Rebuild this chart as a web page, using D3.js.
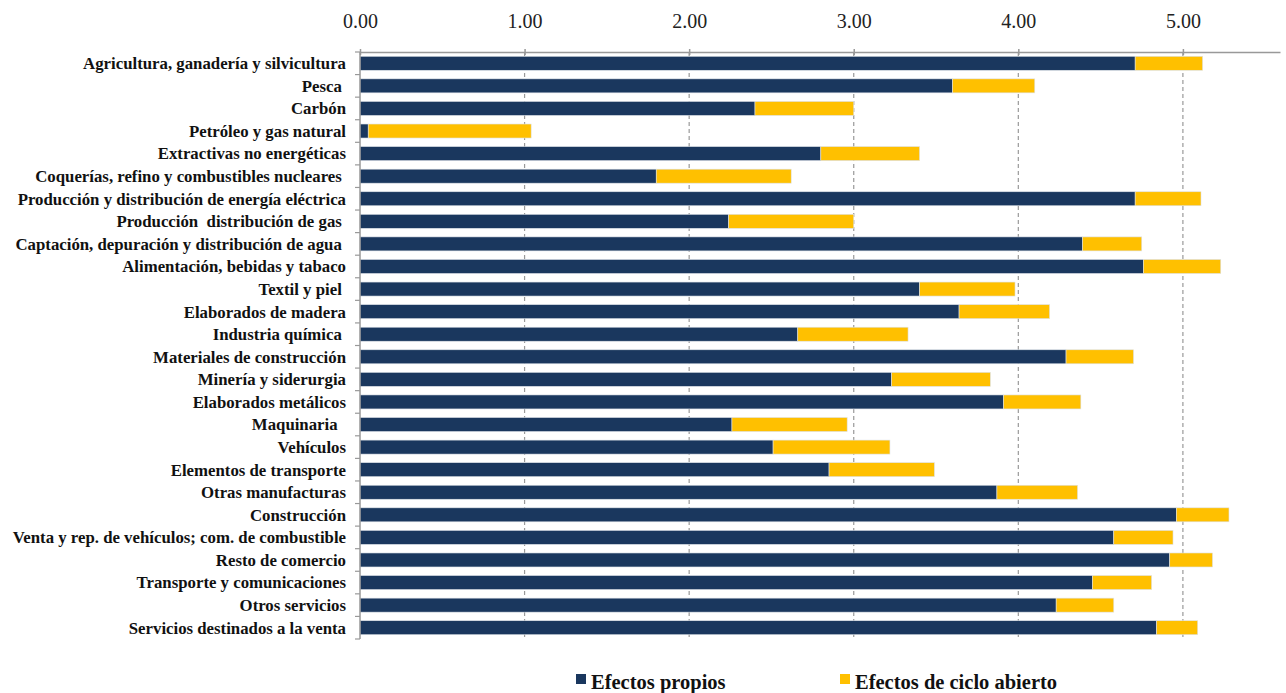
<!DOCTYPE html>
<html>
<head>
<meta charset="utf-8">
<script src="https://cdn.jsdelivr.net/npm/d3@7"></script>
<style>
  body { margin: 0; background: #fff; }
  svg { display: block; font-family: "Liberation Serif", "Times New Roman", serif; }
</style>
</head>
<body>
<svg id="chart"></svg>
<script>
// Sector names, top to bottom
const sectors = [
  "Agricultura, ganadería y silvicultura",
  "Pesca ",
  "Carbón",
  "Petróleo y gas natural",
  "Extractivas no energéticas",
  "Coquerías, refino y combustibles nucleares ",
  "Producción y distribución de energía eléctrica",
  "Producción  distribución de gas ",
  "Captación, depuración y distribución de agua ",
  "Alimentación, bebidas y tabaco",
  "Textil y piel ",
  "Elaborados de madera",
  "Industria química ",
  "Materiales de construcción",
  "Minería y siderurgia",
  "Elaborados metálicos",
  "Maquinaria  ",
  "Vehículos",
  "Elementos de transporte",
  "Otras manufacturas",
  "Construcción",
  "Venta y rep. de vehículos; com. de combustible",
  "Resto de comercio",
  "Transporte y comunicaciones",
  "Otros servicios",
  "Servicios destinados a la venta"
];

// Efectos propios
const propios = [4.71, 3.60, 2.40, 0.05, 2.80, 1.80, 4.71, 2.24, 4.39, 4.76, 3.40, 3.64, 2.66,
  4.29, 3.23, 3.91, 2.26, 2.51, 2.85, 3.87, 4.96, 4.58, 4.92, 4.45, 4.23, 4.84];

// Efectos de ciclo abierto
const cicloAbierto = [0.41, 0.50, 0.60, 0.99, 0.60, 0.82, 0.40, 0.76, 0.36, 0.47, 0.58, 0.55, 0.67,
  0.41, 0.60, 0.47, 0.70, 0.71, 0.64, 0.49, 0.32, 0.36, 0.26, 0.36, 0.35, 0.25];

const xTicks = [0, 1, 2, 3, 4, 5];
const seriesNames = ["Efectos propios", "Efectos de ciclo abierto"];
const colors = ["#1a375e", "#ffc000"];

const width = 1286, height = 693;
const margin = { top: 52, right: 6, bottom: 54, left: 360 };
const innerW = width - margin.left - margin.right;
const innerH = height - margin.top - margin.bottom;

const svg = d3.select("#chart")
  .attr("width", width)
  .attr("height", height);

const g = svg.append("g")
  .attr("transform", `translate(${margin.left},${margin.top})`);

const xScale = d3.scaleLinear().domain([0, 5.59]).range([0, innerW]);
const yScale = d3.scaleBand().domain(sectors).range([0, innerH])
  .paddingInner(0.38).paddingOuter(0.19);

// stacked rows
const rows = sectors.map((s, i) => ({ sector: s, propios: propios[i], ciclo: cicloAbierto[i] }));
const stack = d3.stack().keys(["propios", "ciclo"]);
const layers = stack(rows);

// dashed vertical gridlines
g.append("g")
  .selectAll("line")
  .data(xTicks.filter(d => d > 0))
  .join("line")
  .attr("x1", d => xScale(d))
  .attr("x2", d => xScale(d))
  .attr("y1", 0)
  .attr("y2", innerH)
  .attr("stroke", "#999")
  .attr("stroke-width", 1.2)
  .attr("stroke-dasharray", "4,3");

// bars
g.append("g")
  .selectAll("g")
  .data(layers)
  .join("g")
  .attr("fill", (d, i) => colors[i])
  .selectAll("rect")
  .data(d => d)
  .join("rect")
  .attr("x", d => xScale(d[0]))
  .attr("y", d => yScale(d.data.sector))
  .attr("width", d => xScale(d[1]) - xScale(d[0]))
  .attr("height", yScale.bandwidth())
  .attr("stroke", "#dde2e8")
  .attr("stroke-width", 0.6);

// top axis
const xAxis = d3.axisTop(xScale)
  .tickValues(xTicks)
  .tickFormat(d3.format(".2f"))
  .tickSizeInner(4)
  .tickSizeOuter(0);

const xAxisG = g.append("g").call(xAxis);
xAxisG.select(".domain").attr("stroke", "#999").attr("stroke-width", 1.5);
xAxisG.selectAll(".tick line").attr("stroke", "#999").attr("stroke-width", 1.5)
  .attr("y2", -3).attr("y1", 3);
xAxisG.selectAll(".tick text")
  .attr("y", -24)
  .style("font-family", "'Liberation Serif', serif")
  .style("font-size", "20px")
  .attr("fill", "#222");

// left axis with boundary tick marks
const yAxisG = g.append("g");
yAxisG.append("line")
  .attr("x1", 0).attr("x2", 0)
  .attr("y1", 0).attr("y2", innerH)
  .attr("stroke", "#999")
  .attr("stroke-width", 1.5);
yAxisG.selectAll("line.bound")
  .data(d3.range(sectors.length + 1))
  .join("line")
  .attr("class", "bound")
  .attr("x1", -5).attr("x2", 0)
  .attr("y1", i => i * yScale.step())
  .attr("y2", i => i * yScale.step())
  .attr("stroke", "#999")
  .attr("stroke-width", 1.2);

yAxisG.selectAll("text")
  .data(sectors)
  .join("text")
  .attr("x", -14)
  .attr("y", d => yScale(d) + yScale.bandwidth() / 2)
  .attr("dy", "0.35em")
  .attr("text-anchor", "end")
  .attr("font-weight", "bold")
  .attr("font-size", 16.8)
  .attr("fill", "#111")
  .style("white-space", "pre")
  .text(d => d);

// legend
const legend = svg.append("g").attr("transform", `translate(576,674)`);
const legendX = [0, 264];
legend.selectAll("g")
  .data(seriesNames)
  .join("g")
  .attr("transform", (d, i) => `translate(${legendX[i]},0)`)
  .each(function (d, i) {
    const item = d3.select(this);
    item.append("rect")
      .attr("width", 10).attr("height", 10)
      .attr("fill", colors[i]);
    item.append("text")
      .attr("x", 15)
      .attr("y", 10)
      .attr("dy", "0.25em")
      .attr("font-weight", "bold")
      .attr("font-size", 20.5)
      .attr("fill", "#111")
      .text(d);
  });
</script>
</body>
</html>
